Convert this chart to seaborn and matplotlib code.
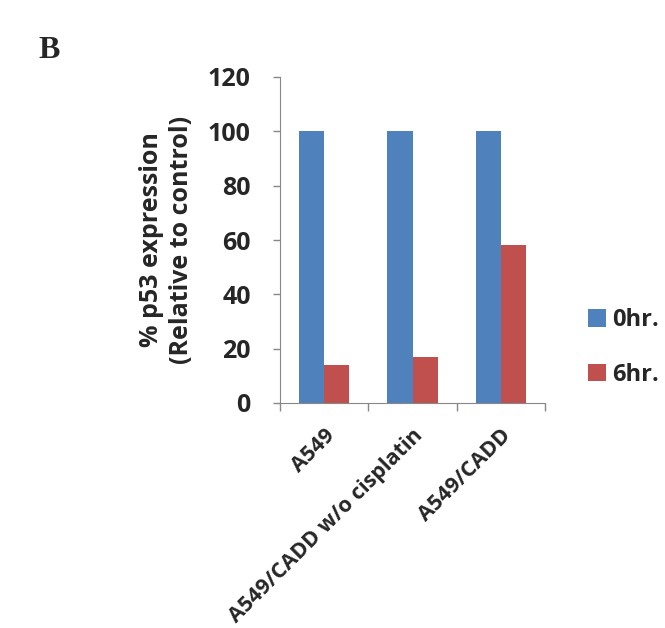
import matplotlib
matplotlib.use("Agg")
import matplotlib.pyplot as plt
import numpy as np
import pandas as pd
import seaborn as sns
from matplotlib.ticker import FixedLocator

# p53 expression relative to control
groups = ["A549", "A549/CADD w/o cisplatin", "A549/CADD"]
hr0 = [100, 100, 100]
hr6 = [14, 17, 58]
series = ["0hr.", "6hr."]
colors = ["#4F81BD", "#C0504D"]

data = pd.DataFrame({
    "group": groups * 2,
    "value": hr0 + hr6,
    "time": [series[0]] * 3 + [series[1]] * 3,
})

sns.set_style("white")
plt.rcParams['font.family'] = ['Open Sans', 'DejaVu Sans']

fig = plt.figure(figsize=(6.65, 6.28), dpi=100)
ax = fig.add_axes([280 / 665, 1 - 403 / 628, 265 / 665, 326 / 628])
sns.barplot(data=data, x="group", y="value", hue="time", palette=colors,
            width=0.57, saturation=1, linewidth=0, ax=ax, legend=True)

ax.set_ylim(0, 120)
ax.set_xlim(-0.5, 2.5)
ax.set_yticks(np.arange(0, 121, 20))
ax.tick_params(axis='y', left=True, length=5, width=1, color="#888888",
               labelsize=18, pad=16)
for t in ax.get_yticklabels():
    t.set_fontweight("bold")

# category boundaries as ticks, labels at centres without ticks
ax.xaxis.set_minor_locator(FixedLocator([-0.5, 0.5, 1.5, 2.5]))
ax.tick_params(axis='x', which='minor', bottom=True, length=6, width=1, color="#888888")
ax.tick_params(axis='x', which='major', bottom=False, length=0, labelsize=15.5, pad=16)
plt.setp(ax.get_xticklabels(), rotation=45, ha='right', rotation_mode='anchor',
         fontweight='bold')

sns.despine(ax=ax)
ax.spines['left'].set_color("#888888")
ax.spines['bottom'].set_color("#888888")

ax.set_xlabel("")
ax.set_ylabel("% p53 expression\n(Relative to control)", fontsize=18,
              fontweight='bold', labelpad=10, linespacing=1.25)

leg = ax.legend(loc='center left', bbox_to_anchor=(1.11, 0.17), frameon=False,
                prop={'size': 17, 'weight': 'bold'}, handlelength=0.75,
                handleheight=0.75, handletextpad=0.25, labelspacing=1.3,
                borderaxespad=0.2)

fig.text(38 / 665, 1 - 50 / 628, "B", fontsize=23, fontweight='bold',
         family='Liberation Serif', va='center')

fig.savefig("out.png", dpi=100)
